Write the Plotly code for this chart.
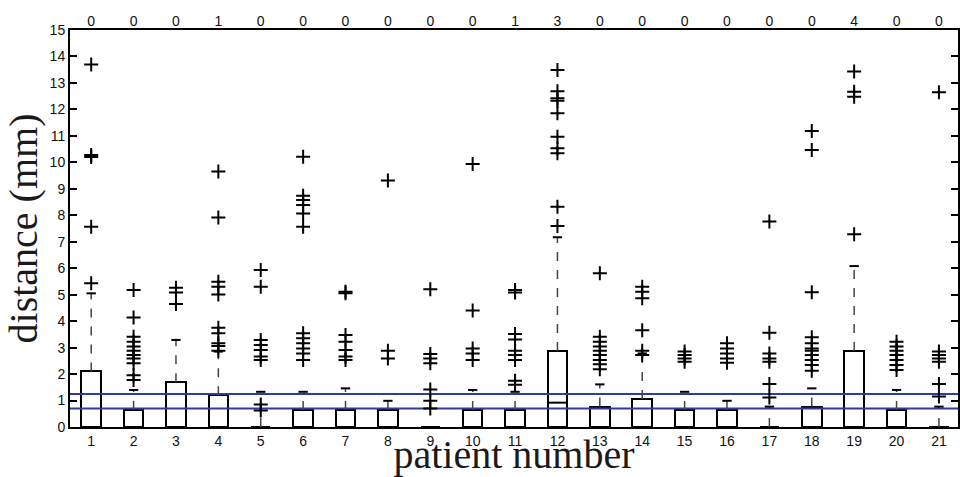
import plotly.graph_objects as go

patients = list(range(1, 22))
top_counts = [0, 0, 0, 1, 0, 0, 0, 0, 0, 0, 1, 3, 0, 0, 0, 0, 0, 0, 4, 0, 0]
q3_values = [2.1, 0.64, 1.69, 1.2, 0.0, 0.64, 0.64, 0.64, 0.0, 0.64, 0.64,
             2.87, 0.77, 1.06, 0.64, 0.64, 0.0, 0.77, 2.87, 0.64, 0.0]
median_values = [0, 0, 0, 0, 0, 0, 0, 0, 0, 0, 0, 0.92, 0, 0, 0, 0, 0, 0, 0, 0, 0]
whisker_hi = [5.05, 1.4, 3.29, 2.85, 1.33, 1.33, 1.46, 0.99, 0.0, 1.4, 1.33,
              7.17, 1.61, 2.78, 1.33, 0.99, 0.77, 1.46, 6.08, 1.4, 0.77]
outliers = [
    [13.7, 10.28, 10.2, 7.57, 5.43],
    [5.18, 4.14, 3.41, 3.22, 3.04, 2.88, 2.72, 2.59, 2.41, 1.96, 1.78],
    [5.26, 5.08, 4.65],
    [9.65, 7.92, 5.49, 5.3, 5.01, 3.75, 3.54, 3.16, 3.06, 2.88],
    [5.93, 5.3, 3.29, 3.1, 2.91, 2.66, 2.53, 0.85, 0.62],
    [10.21, 8.74, 8.58, 8.39, 8.07, 7.57, 3.54, 3.35, 3.16, 2.97, 2.78, 2.53],
    [5.11, 5.05, 3.48, 3.22, 2.91, 2.66, 2.53],
    [9.31, 2.88, 2.59],
    [5.2, 2.76, 2.59, 2.41, 1.42, 0.99, 0.7],
    [9.94, 4.4, 2.97, 2.78, 2.53],
    [5.18, 5.08, 3.51, 3.31, 2.88, 2.72, 2.53, 1.75, 1.6],
    [13.49, 12.69, 12.42, 12.33, 11.85, 10.97, 10.53, 10.34, 8.32, 7.59],
    [5.81, 3.41, 3.22, 3.04, 2.88, 2.72, 2.53, 2.37, 2.18],
    [5.3, 5.11, 4.86, 3.66, 2.88, 2.72],
    [2.85, 2.72, 2.59, 2.47],
    [3.16, 2.97, 2.78, 2.59, 2.43],
    [7.76, 3.56, 2.78, 2.59, 2.47, 1.62, 1.11],
    [11.18, 10.47, 5.09, 3.39, 3.16, 2.97, 2.88, 2.72, 2.53, 2.34, 2.13],
    [13.43, 12.67, 12.48, 7.28],
    [3.22, 3.04, 2.88, 2.72, 2.53, 2.34, 2.15],
    [12.65, 2.85, 2.72, 2.59, 2.47, 1.62, 1.15],
]
reference_lines = [1.25, 0.7]
y_ticks = list(range(0, 16))

BOX_W = 0.46
CAP_HALF = 0.11
X_RANGE = [0.5, 21.45]

fig = go.Figure()

# reference lines
for ref in reference_lines:
    fig.add_trace(go.Scatter(x=X_RANGE, y=[ref, ref], mode="lines",
                             line=dict(color="#2f3b9e", width=2),
                             hoverinfo="skip", showlegend=False))

# boxes
fig.add_trace(go.Bar(x=patients, y=q3_values, width=BOX_W, base=0,
                     marker=dict(color="rgba(0,0,0,0)",
                                 line=dict(color="black", width=2)),
                     showlegend=False))

# whiskers, caps, medians
wx, wy, cx, cy, mx, my = [], [], [], [], [], []
for p, q, w, m in zip(patients, q3_values, whisker_hi, median_values):
    if w > q:
        wx += [p, p, None]
        wy += [q, w, None]
    if w > 0:
        cx += [p - CAP_HALF, p + CAP_HALF, None]
        cy += [w, w, None]
    if m > 0:
        mx += [p - BOX_W / 2, p + BOX_W / 2, None]
        my += [m, m, None]
fig.add_trace(go.Scatter(x=wx, y=wy, mode="lines",
                         line=dict(color="#444", width=1.5, dash="dash"),
                         showlegend=False))
fig.add_trace(go.Scatter(x=cx, y=cy, mode="lines",
                         line=dict(color="black", width=2), showlegend=False))
fig.add_trace(go.Scatter(x=mx, y=my, mode="lines",
                         line=dict(color="black", width=2), showlegend=False))

# outliers
ox, oy = [], []
for p, vals in zip(patients, outliers):
    for v in vals:
        ox.append(p)
        oy.append(v)
fig.add_trace(go.Scatter(x=ox, y=oy, mode="markers",
                         marker=dict(symbol="cross-thin", size=10,
                                     line=dict(color="black", width=2)),
                         showlegend=False))

tick_font = dict(family="Liberation Sans, Arial, sans-serif", size=14, color="#111111")
title_font = dict(family="Liberation Serif, Times New Roman, serif", size=40, color="#1a1a1a")

fig.update_layout(
    width=960, height=477,
    margin=dict(l=70, r=0, t=30, b=50),
    paper_bgcolor="white", plot_bgcolor="white",
    bargap=0,
    xaxis=dict(range=X_RANGE, tickmode="array", tickvals=patients,
               ticktext=[str(p) for p in patients], ticks="",
               showline=True, linecolor="black", linewidth=2, mirror=True,
               showgrid=False, zeroline=False, tickfont=tick_font,
               title=dict(text="patient number", font=title_font, standoff=0)),
    xaxis2=dict(range=X_RANGE, overlaying="x", side="top", tickmode="array",
                tickvals=patients, ticktext=[str(c) for c in top_counts],
                ticks="", showline=False, showgrid=False, zeroline=False,
                tickfont=tick_font),
    yaxis=dict(range=[0, 15], tickmode="array", tickvals=y_ticks,
               ticks="inside", ticklen=7, tickwidth=1.5, tickcolor="black",
               showline=True, linecolor="black", linewidth=2, mirror="ticks",
               showgrid=False, zeroline=False, tickfont=tick_font,
               title=dict(text="distance (mm)", font=title_font, standoff=0)),
)
fig.add_trace(go.Scatter(x=[None], y=[None], xaxis="x2", showlegend=False))

fig.write_html("out.html")
